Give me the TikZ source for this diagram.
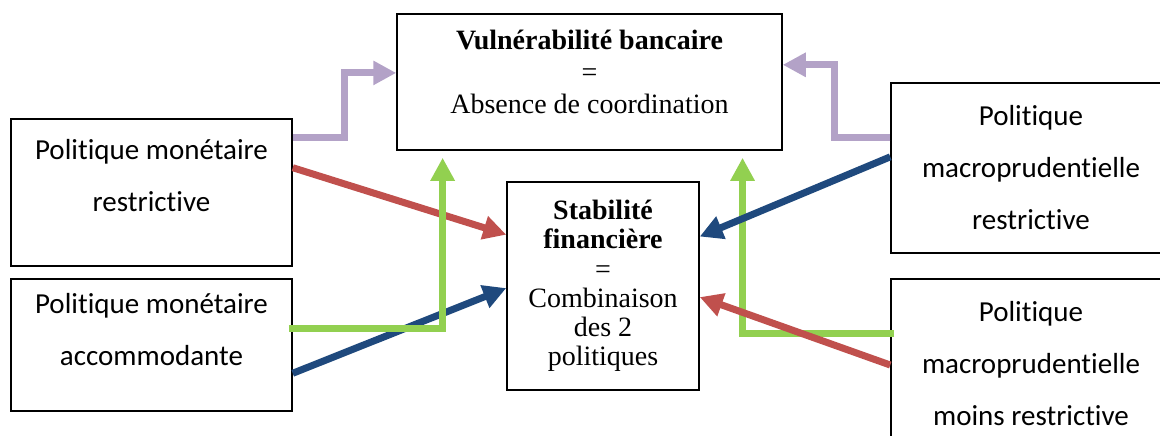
\documentclass[tikz,border=0pt]{standalone}
\usepackage{fontspec}
\usepackage{tikz}
\usetikzlibrary{arrows.meta, positioning, calc}
\setmainfont{Liberation Serif}
\newfontfamily\calibri[Ligatures=NoCommon]{Carlito}
\definecolor{lilas}{RGB}{179,162,199}
\definecolor{brique}{RGB}{192,80,77}
\definecolor{marine}{RGB}{31,73,125}
\definecolor{pomme}{RGB}{146,208,80}
\tikzstyle{policy} = [rectangle, minimum width=281pt, minimum height=147pt, align=center, draw=black, line width=1.5pt, inner sep=0pt, font=\calibri\fontsize{29}{52}\selectfont]
\tikzstyle{outcome} = [rectangle, align=center, draw=black, line width=1.5pt, inner sep=0pt, font=\fontsize{28}{32}\selectfont]
\tikzstyle{flow} = [line width=7pt, -{Triangle[length=23pt, width=23pt]}]

\begin{document}
\begin{tikzpicture}[x=1pt, y=-1pt]
\useasboundingbox (0,0) rectangle (1160,436);
\clip (0,0) rectangle (1160,436);
\node (vuln) [outcome, minimum width=385pt, minimum height=136pt, text depth=20pt] at (589.5,82) {\textbf{Vulnérabilité bancaire}\\=\\Absence de coordination};
\node (stab) [outcome, minimum width=192pt, minimum height=208pt, font=\fontsize{28}{29.2}\selectfont] at (603,286) {\textbf{Stabilité}\\\textbf{financière}\\=\\Combinaison\\des 2\\politiques};
\node (mrestr) [policy, text depth=34pt] at (151.5,192.5) {Politique monétaire\\restrictive};
\node (maccomm) [policy, minimum height=132pt, text depth=32pt] at (151.5,345) {Politique monétaire\\accommodante};
\node (mprestr) [policy, minimum width=280pt, minimum height=170pt] at (1031,168) {Politique\\macroprudentielle\\restrictive};
\node (mpmoins) [policy, minimum width=280pt, minimum height=170pt] at (1031,364) {Politique\\macroprudentielle\\moins restrictive};
% monetaire -> stabilite / vulnerabilite
\draw[flow, brique] ($(mrestr.north east)!0.333!(mrestr.south east)$) -- ($(stab.north west)!0.255!(stab.south west)$);
\draw[flow, marine] ($(maccomm.north east)!0.712!(maccomm.south east)$) -- ($(stab.north west)!0.51!(stab.south west)$);
\draw[flow, pomme, shorten >=7pt] ($(maccomm.north east)!0.38!(maccomm.south east)$) ++(-4,0) -| ($(vuln.south west)!0.12!(vuln.south east)$);
% macroprudentielle -> stabilite / vulnerabilite
\draw[flow, pomme, shorten >=7pt] ($(mpmoins.north west)!0.324!(mpmoins.south west)$) ++(4,0) -| ($(vuln.south west)!0.896!(vuln.south east)$);
\draw[flow, marine] ($(mprestr.north west)!0.435!(mprestr.south west)$) -- ($(stab.north east)!0.264!(stab.south east)$);
\draw[flow, brique] ($(mpmoins.north west)!0.506!(mpmoins.south west)$) -- ($(stab.north east)!0.553!(stab.south east)$);
% restrictives -> vulnerabilite
\draw[flow, lilas] ($(mrestr.north east)!0.13!(mrestr.south east)$) -- ++(52,0) |- ($(vuln.north west)!0.434!(vuln.south west)$);
\draw[flow, lilas] ($(mprestr.north west)!0.32!(mprestr.south west)$) -- ++(-56,0) |- ($(vuln.north east)!0.375!(vuln.south east)$);
\end{tikzpicture}
\end{document}
